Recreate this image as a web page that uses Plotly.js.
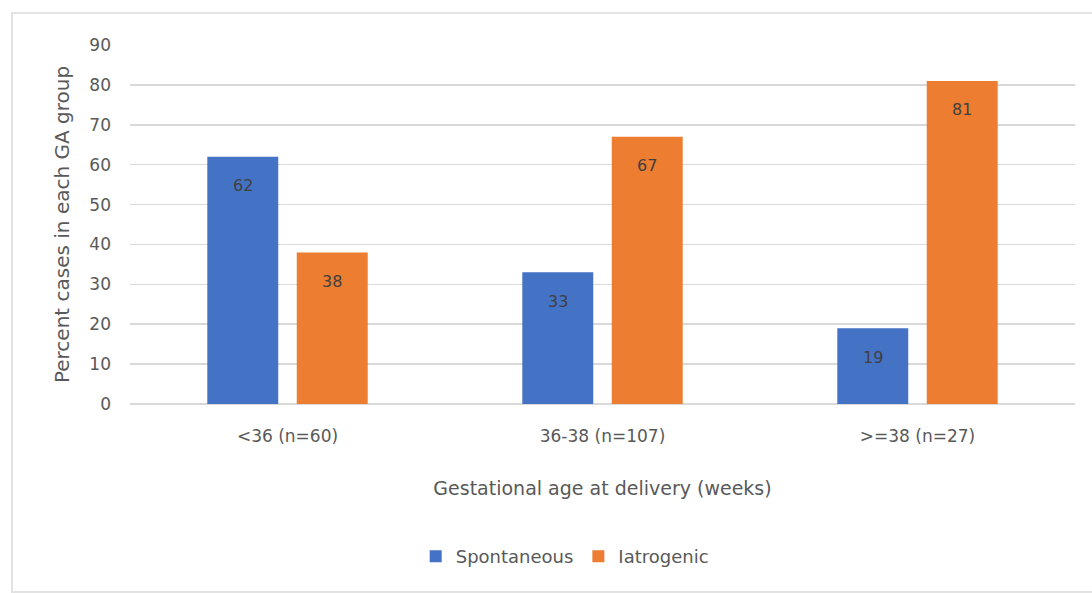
<!DOCTYPE html>
<html>
<head>
<meta charset="utf-8">
<script src="https://cdn.plot.ly/plotly-3.0.1.min.js"></script>
<style>
  html, body { margin: 0; padding: 0; background: #ffffff; }
  #chart { width: 1092px; height: 593px; }
</style>
</head>
<body>
<div id="chart"></div>
<script>
// Gestational age groups and share of cases by delivery type (%)
const categories = ['<36 (n=60)', '36-38 (n=107)', '>=38 (n=27)'];
const spontaneous = [62, 33, 19];
const iatrogenic = [38, 67, 81];
const seriesNames = ['Spontaneous', 'Iatrogenic'];
const yTicks = [0, 10, 20, 30, 40, 50, 60, 70, 80, 90];

const FONT = '"DejaVu Sans", "Liberation Sans", sans-serif';
const BLUE = '#4472C4';
const ORANGE = '#ED7D31';
const TEXT = '#595959';

const W = 1092, H = 593;
const margin = { l: 130, r: 17, t: 45, b: 189 };
const plotW = W - margin.l - margin.r;
const plotH = H - margin.t - margin.b;
const bargap = 0.432, bargroupgap = 0.207;

// horizontal offset of each bar centre from its category centre, in px
const catW = plotW / categories.length;
const slotW = catW * (1 - bargap) / 2;
const barShift = slotW / 2;

const traces = [
  { type: 'bar', name: seriesNames[0], x: categories, y: spontaneous,
    marker: { color: BLUE }, hoverinfo: 'x+y' },
  { type: 'bar', name: seriesNames[1], x: categories, y: iatrogenic,
    marker: { color: ORANGE }, hoverinfo: 'x+y' }
];

// value labels sitting just inside the top of each bar
const annotations = [];
[spontaneous, iatrogenic].forEach((vals, s) => {
  vals.forEach((v, i) => {
    annotations.push({
      x: categories[i], y: v, xref: 'x', yref: 'y',
      xshift: s === 0 ? -barShift : barShift, yshift: -29,
      text: String(v), showarrow: false,
      font: { family: FONT, size: 16, color: '#404040' }
    });
  });
});

// light outer frame around the chart
const frame = {
  type: 'rect', xref: 'paper', yref: 'paper', layer: 'below',
  x0: (12 - margin.l) / plotW, x1: (1095 - margin.l) / plotW,
  y0: (margin.t + plotH - 592) / plotH, y1: (margin.t + plotH - 13) / plotH,
  line: { color: '#e3e3e3', width: 2 }, fillcolor: 'rgba(0,0,0,0)'
};

const layout = {
  width: W, height: H,
  margin: margin,
  paper_bgcolor: '#ffffff', plot_bgcolor: '#ffffff',
  barmode: 'group', bargap: bargap, bargroupgap: bargroupgap,
  font: { family: FONT, color: TEXT, size: 17 },
  showlegend: true,
  legend: {
    orientation: 'h', x: 0.46, xanchor: 'center', y: -0.425, yanchor: 'middle',
    font: { family: FONT, size: 18, color: TEXT }, traceorder: 'normal'
  },
  xaxis: {
    type: 'category', showgrid: false, zeroline: false, showline: false,
    ticks: '', ticklabelstandoff: 20,
    tickfont: { family: FONT, size: 17, color: TEXT },
    title: { text: 'Gestational age at delivery (weeks)', standoff: 36,
             font: { family: FONT, size: 19, color: TEXT } }
  },
  yaxis: {
    range: [0, 90], tickvals: yTicks, ticktext: yTicks.map(String),
    showgrid: true, gridcolor: '#d9d9d9', gridwidth: 1.5,
    zeroline: true, zerolinecolor: '#d9d9d9', zerolinewidth: 1.5,
    showline: false, ticks: '', ticklabelstandoff: 18,
    tickfont: { family: FONT, size: 17, color: TEXT },
    title: { text: 'Percent cases in each GA group', standoff: 14,
             font: { family: FONT, size: 20, color: TEXT } }
  },
  annotations: annotations,
  shapes: [frame]
};

Plotly.newPlot('chart', traces, layout, { displayModeBar: false, staticPlot: true });
</script>
</body>
</html>
